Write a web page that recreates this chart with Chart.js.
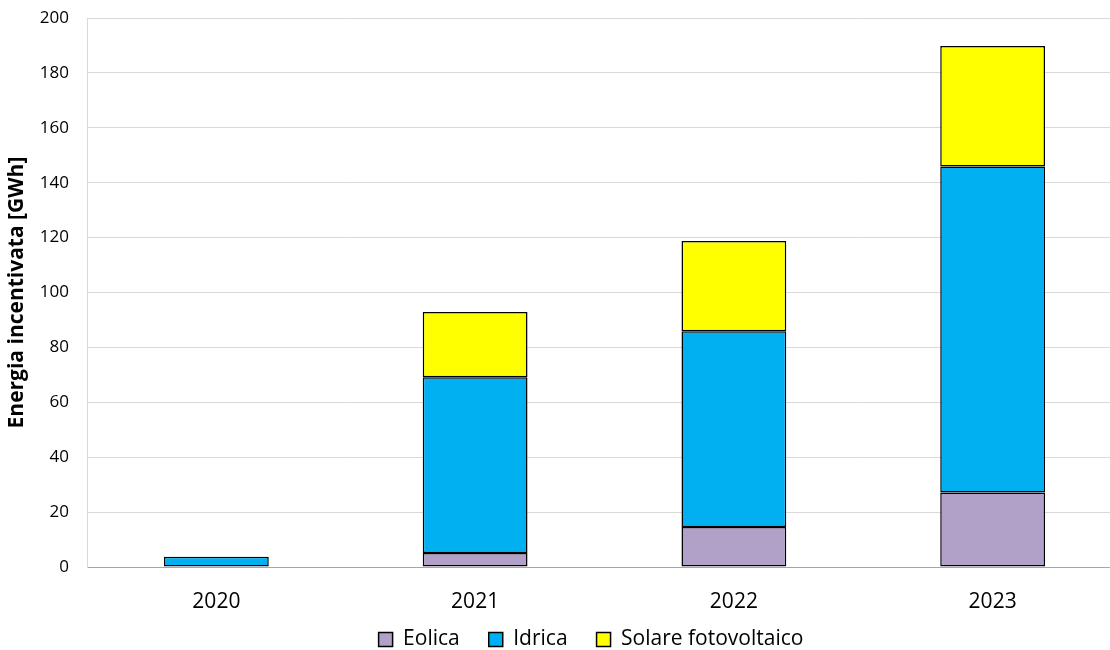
<!DOCTYPE html>
<html>
<head>
<meta charset="utf-8">
<script src="https://cdn.jsdelivr.net/npm/chart.js@4"></script>
<style>
  html, body { margin: 0; padding: 0; background: #fff; overflow: hidden; }
  #wrap { width: 1122px; height: 650px; }
</style>
</head>
<body>
<div id="wrap"><canvas id="mainChart"></canvas></div>
<script>
const years = ['2020', '2021', '2022', '2023'];
const eolica = [null, 5.1, 14.6, 27.1];
const idrica = [3.7, 64.0, 71.3, 118.8];
const solare = [null, 23.8, 32.9, 43.9];

const fontFam = "'Open Sans', 'Liberation Sans', sans-serif";

// legend sideways + let x labels spill below their box
const layoutTweak = {
    id: 'layoutTweak',
    afterLayout(chart) {
        const lg = chart.legend;
        lg.left += 30; lg.right += 30;
        chart.scales.x.bottom += 30;
    }
};

const ctx = document.getElementById('mainChart').getContext('2d');
var myChart = new Chart(ctx, {
    type: 'bar',
    data: {
        labels: years,
        datasets: [{
            label: 'Eolica',
            data: eolica,
            backgroundColor: '#b1a0c7',
            borderColor: '#000000',
            borderWidth: 1.5
        }, {
            label: 'Idrica',
            data: idrica,
            backgroundColor: '#00b0f0',
            borderColor: '#000000',
            borderWidth: 1.5
        }, {
            label: 'Solare fotovoltaico',
            data: solare,
            backgroundColor: '#ffff00',
            borderColor: '#000000',
            borderWidth: 1.5
        }]
    },
    plugins: [layoutTweak],
    options: {
        responsive: true,
        maintainAspectRatio: false,
        animation: false,
        datasets: {
            bar: { categoryPercentage: 1.0, barPercentage: 0.405, borderSkipped: false }
        },
        layout: { padding: { left: 0, right: 0, top: 0, bottom: -10 } },
        plugins: {
            tooltip: { enabled: false },
            legend: {
                position: 'bottom',
                labels: {
                    font: { family: fontFam, size: 21 },
                    color: '#000',
                    boxWidth: 14,
                    boxHeight: 14,
                    padding: 29
                }
            }
        },
        scales: {
            x: {
                stacked: true,
                grid: { display: false, drawTicks: false },
                border: { color: '#a6a6a6', width: 1 },
                ticks: { font: { family: fontFam, size: 21 }, color: '#000', padding: 22, maxRotation: 0 },
                afterFit: function(scale) { scale.height = 33; }
            },
            y: {
                stacked: true,
                min: 0,
                max: 200,
                ticks: { stepSize: 20, font: { family: fontFam, size: 17, lineHeight: 0.01 }, color: '#000', padding: 18 },
                grid: { color: '#d9d9d9', drawTicks: false },
                border: { color: '#d9d9d9', width: 1 },
                title: {
                    display: true,
                    text: 'Energia incentivata [GWh]',
                    font: { family: fontFam, size: 21, weight: 'bold' },
                    color: '#000'
                },
                afterFit: function(scale) { scale.width = 87; }
            }
        }
    }
});
</script>
</body>
</html>
